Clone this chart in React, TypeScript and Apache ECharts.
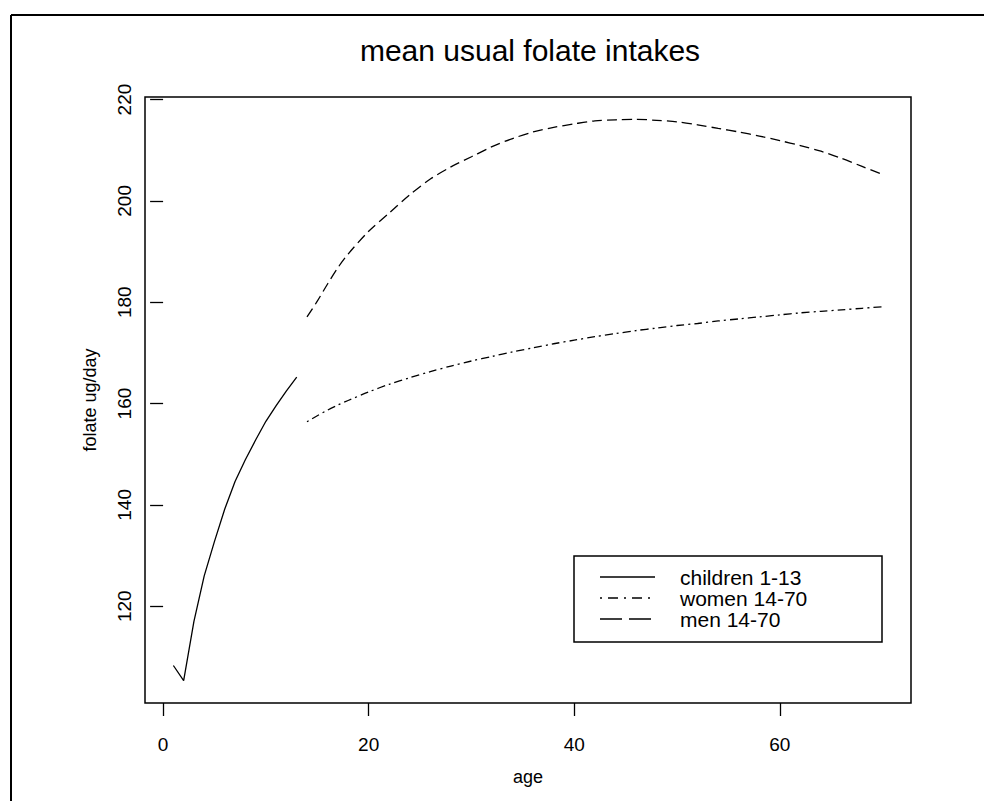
import React, { useEffect, useRef } from "react";
import * as echarts from "echarts";

const TITLE = "mean usual folate intakes";
const X_NAME = "age";
const Y_NAME = "folate ug/day";
const X_TICKS = [0, 20, 40, 60];
const Y_TICKS = [120, 140, 160, 180, 200, 220];

const childAges = [1, 2, 3, 4, 5, 6, 7, 8, 9, 10, 11, 12, 13];
const childVals = [108.3, 105.3, 117.0, 126.0, 132.8, 139.2, 144.6, 148.9, 152.8, 156.5, 159.6, 162.5, 165.2];

const adultAges = [14, 15, 16, 17, 18, 20, 22, 24, 26, 28, 30, 32, 34, 36, 38, 40, 42, 44, 46, 48, 50, 52, 54, 56, 58, 60, 62, 64, 66, 68, 70];
const womenVals = [156.4, 157.6, 158.7, 159.7, 160.6, 162.3, 163.8, 165.1, 166.3, 167.4, 168.4, 169.3, 170.2, 171.0, 171.8, 172.5, 173.2, 173.8, 174.4, 174.9, 175.4, 175.8, 176.3, 176.7, 177.1, 177.5, 177.9, 178.2, 178.5, 178.8, 179.1];
const menVals = [177.1, 180.2, 183.6, 186.8, 189.5, 194.0, 197.6, 201.2, 204.3, 206.7, 208.7, 210.7, 212.3, 213.6, 214.5, 215.2, 215.8, 216.0, 216.1, 215.9, 215.6, 215.0, 214.3, 213.6, 212.8, 211.9, 210.9, 209.8, 208.4, 206.8, 205.2];

const LEGEND_NAMES = ["children 1-13", "women 14-70", "men 14-70"];

const FONT = "Liberation Sans, Arial, sans-serif";
const WOMEN_DASH = [2, 4, 8, 4];
const MEN_DASH = [10, 5];

export default function App() {
  const ref = useRef<HTMLDivElement>(null);
  useEffect(() => {
    if (!ref.current) return;
    const chart = echarts.init(ref.current, undefined, { renderer: "svg" });
    const pair = (xs: number[], ys: number[]) => xs.map((x, i) => [x, ys[i]]);
    const legendRows = [
      { name: LEGEND_NAMES[0], dash: null as number[] | null, y: 577 },
      { name: LEGEND_NAMES[1], dash: [2, 6, 10, 6], y: 598 },
      { name: LEGEND_NAMES[2], dash: [22, 7], y: 619 },
    ];
    const graphic: any[] = [
      { type: "line", shape: { x1: 11, y1: 15, x2: 11, y2: 801 }, style: { stroke: "#000", lineWidth: 2 } },
      { type: "line", shape: { x1: 11, y1: 15, x2: 984, y2: 15 }, style: { stroke: "#000", lineWidth: 2 } },
      {
        type: "text",
        x: 530,
        y: 50,
        style: { text: TITLE, fontSize: 30, fontFamily: FONT, fill: "#000", align: "center", verticalAlign: "middle" },
      },
      { type: "rect", shape: { x: 574, y: 556, width: 308, height: 86 }, style: { fill: "#fff", stroke: "#000", lineWidth: 1.5 }, z: 10 },
    ];
    legendRows.forEach((r) => {
      graphic.push({
        type: "line",
        z: 11,
        shape: { x1: 600, y1: r.y, x2: 655, y2: r.y },
        style: { stroke: "#000", lineWidth: 1.3, lineDash: r.dash || undefined },
      });
      graphic.push({
        type: "text",
        z: 11,
        x: 680,
        y: r.y,
        style: { text: r.name, fontSize: 21, fontFamily: FONT, fill: "#000", verticalAlign: "middle" },
      });
    });

    chart.setOption({
      animation: false,
      backgroundColor: "#fff",
      grid: { left: 145, top: 97, width: 766, height: 606, show: true, borderColor: "#000", borderWidth: 1.5, containLabel: false },
      xAxis: {
        type: "value",
        min: -1.76,
        max: 72.76,
        name: X_NAME,
        nameLocation: "middle",
        nameGap: 65,
        nameTextStyle: { fontSize: 18, fontFamily: FONT, color: "#000" },
        axisLine: { show: false },
        splitLine: { show: false },
        axisTick: { show: true, customValues: X_TICKS, length: 13, lineStyle: { color: "#000", width: 1.3 } },
        axisLabel: { customValues: X_TICKS, margin: 32, fontSize: 19, fontFamily: FONT, color: "#000" },
      },
      yAxis: {
        type: "value",
        min: 100.9,
        max: 220.5,
        name: Y_NAME,
        nameLocation: "middle",
        nameGap: 46,
        nameTextStyle: { fontSize: 18, fontFamily: FONT, color: "#000" },
        axisLine: { show: false },
        splitLine: { show: false },
        axisTick: { show: true, customValues: Y_TICKS, length: 13, lineStyle: { color: "#000", width: 1.3 } },
        axisLabel: { customValues: Y_TICKS, rotate: 90, margin: 11, fontSize: 19, fontFamily: FONT, color: "#000" },
      },
      series: [
        {
          name: LEGEND_NAMES[0],
          type: "line",
          data: pair(childAges, childVals),
          showSymbol: false,
          lineStyle: { color: "#000", width: 1.3, type: "solid" },
        },
        {
          name: LEGEND_NAMES[1],
          type: "line",
          data: pair(adultAges, womenVals),
          smooth: 0.3,
          showSymbol: false,
          lineStyle: { color: "#000", width: 1.3, type: WOMEN_DASH },
        },
        {
          name: LEGEND_NAMES[2],
          type: "line",
          data: pair(adultAges, menVals),
          smooth: 0.3,
          showSymbol: false,
          lineStyle: { color: "#000", width: 1.3, type: MEN_DASH },
        },
      ],
      graphic,
    });
    return () => chart.dispose();
  }, []);
  return <div ref={ref} style={{ position: "fixed", left: 0, top: 0, width: 984, height: 801, background: "#fff" }} />;
}
